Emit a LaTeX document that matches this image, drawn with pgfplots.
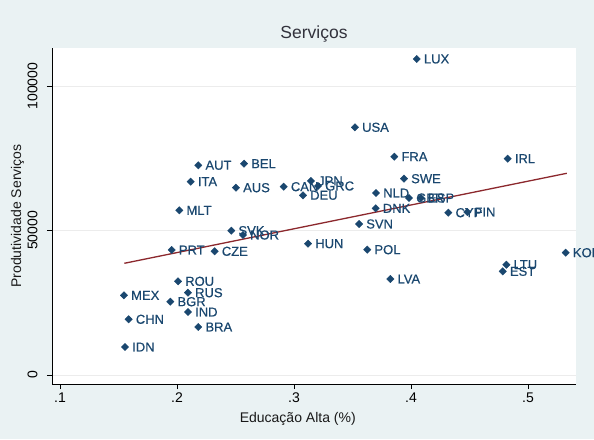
\documentclass[border=0pt]{standalone}
\usepackage{pgfplots}
\usepackage{pgfplotstable}
\pgfplotsset{compat=1.18}
\usepackage{fontspec}
\setmainfont{Liberation Sans}
\newfontfamily\lblfont{Liberation Sans}[FakeBold=0.5]

\definecolor{bgc}{RGB}{234,242,243}
\definecolor{navy}{RGB}{26,71,111}
\definecolor{fitred}{RGB}{140,40,45}
\definecolor{titlec}{RGB}{50,50,60}
\definecolor{gridc}{RGB}{236,236,236}

% Share of workers with higher education vs. services productivity
\pgfplotstableread{
x       y       lab
0.4049  109343  LUX
0.3521  85709   USA
0.3857  75536   FRA
0.4826  74844   IRL
0.2182  72561   AUT
0.2573  73114   BEL
0.2117  66886   ITA
0.2504  64810   AUS
0.2912  65155   CAN
0.3145  67128   JPN
0.3205  65398   GRC
0.3077  62180   DEU
0.3940  67924   SWE
0.3701  62976   NLD
0.3983  61246   GBR
0.4085  61246   ESP
0.3698  57682   DNK
0.4319  56159   CYP
0.4481  56401   FIN
0.2020  56989   MLT
0.3556  52249   SVN
0.2464  49931   SVK
0.2564  48443   NOR
0.3120  45433   HUN
0.3626  43356   POL
0.1955  43253   PRT
0.2322  42803   CZE
0.5322  42318   KOR
0.4815  38166   LTU
0.4784  35882   EST
0.3823  33218   LVA
0.2009  32422   ROU
0.2094  28477   RUS
0.1547  27578   MEX
0.1943  25363   BGR
0.2094  21799   IND
0.1587  19273   CHN
0.2182  16609   BRA
0.1556  9689    IDN
}\servicos

\begin{document}
\begin{tikzpicture}
\fill[bgc] (0,0) rectangle (594pt,439pt);
\begin{axis}[
  at={(52pt,55pt)}, anchor=south west,
  scale only axis, width=524pt, height=336pt,
  xmin=0.0932, xmax=0.541, ymin=-3114, ymax=113149,
  axis background/.style={fill=white},
  axis x line*=bottom, axis y line*=left,
  axis line style={-, black, line width=0.7pt},
  tick align=outside, major tick length=5pt,
  tick style={black, line width=0.6pt},
  xtick={0.1,0.2,0.3,0.4,0.5}, xticklabels={.1,.2,.3,.4,.5},
  ytick={0,50000,100000}, yticklabels={0,50000,100000},
  scaled y ticks=false,
  ymajorgrids, grid style={gridc, line width=0.6pt},
  xticklabel style={font=\fontsize{14}{14}\selectfont, black},
  yticklabel style={font=\fontsize{14}{14}\selectfont, black, rotate=90, anchor=south},
  yticklabel shift=6pt,
  every axis title shift=0pt,
  title={Serviços},
  title style={at={(axis description cs:0.5,1.027)}, anchor=base,
    font=\fontsize{17.5}{17.5}\selectfont, text=titlec},
  xlabel={Educação Alta (\%)},
  x label style={at={(axis description cs:0.469,-0.116)}, anchor=base,
    font=\fontsize{14}{14}\selectfont, text=black!90},
  ylabel={Produtividade Serviços},
  y label style={at={(axis description cs:-0.0658,0.5)}, anchor=center,
    font=\fontsize{14}{14}\selectfont, text=black!90},
  clip=false,
]
\addplot[only marks, mark=square*, mark size=2.6pt,
  mark options={fill=navy, draw=navy, rotate=45},
  nodes near coords, point meta=explicit symbolic,
  every node near coord/.append style={anchor=west, inner sep=0pt,
    xshift=7pt, font=\lblfont\fontsize{13}{13}\selectfont, text=navy}]
  table[x=x, y=y, meta=lab] {\servicos};
% linear fit
\addplot[fitred, line width=1.3pt] coordinates {(0.155,38650) (0.5331,69793)};
\end{axis}
\pgfresetboundingbox
\useasboundingbox (0,0) rectangle (594pt,439pt);
\end{tikzpicture}
\end{document}
